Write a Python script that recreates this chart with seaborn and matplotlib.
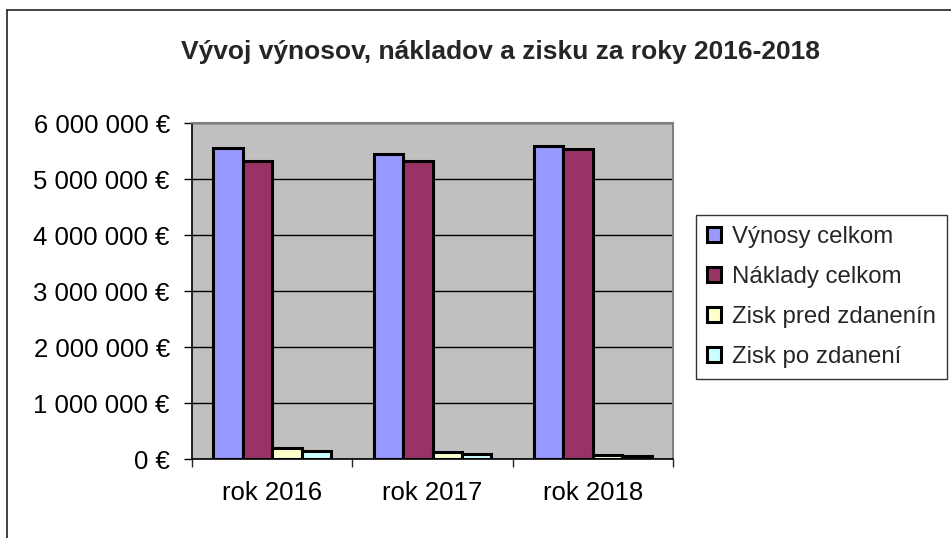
import pandas as pd
import matplotlib.pyplot as plt
import seaborn as sns
from matplotlib.lines import Line2D
from matplotlib.ticker import FuncFormatter, MultipleLocator

# data
roky = ["rok 2016", "rok 2017", "rok 2018"]
vynosy = [5560000, 5450000, 5590000]
naklady = [5330000, 5330000, 5530000]
zisk_pred = [200000, 120000, 77000]
zisk_po = [150000, 90000, 50000]

serie = ["Výnosy celkom", "Náklady celkom", "Zisk pred zdanenín", "Zisk po zdanení"]
farby = ["#9999FF", "#993366", "#FFFFCC", "#CCFFFF"]

df = pd.DataFrame({
    "rok": roky * 4,
    "seria": [s for s in serie for _ in roky],
    "hodnota": vynosy + naklady + zisk_pred + zisk_po,
})

sns.set_style("white")
plt.rcParams["font.family"] = ["Liberation Sans", "DejaVu Sans"]

fig = plt.figure(figsize=(9.51, 5.38), dpi=100)
ax = fig.add_axes([0.2019, 0.1468, 0.5058, 0.6245])

sns.barplot(data=df, x="rok", y="hodnota", hue="seria", hue_order=serie,
            palette=farby, width=0.735, gap=0, saturation=1,
            edgecolor="black", linewidth=2.2, ax=ax, zorder=3)

ax.set_facecolor("#C0C0C0")
ax.set_xlim(-0.5, 2.5)
ax.set_ylim(0, 6000000)
ax.yaxis.set_major_locator(MultipleLocator(1000000))
ax.yaxis.set_major_formatter(FuncFormatter(lambda v, p: f"{int(v):,} €".replace(",", " ")))
ax.grid(axis="y", color="black", linewidth=1, zorder=1)
ax.set_axisbelow(True)
ax.set_xlabel("")
ax.set_ylabel("")

for s in ["top", "right"]:
    ax.spines[s].set_color("#808080")
    ax.spines[s].set_linewidth(1.5)
for s in ["left", "bottom"]:
    ax.spines[s].set_color("black")
    ax.spines[s].set_linewidth(1.2)

ax.tick_params(axis="both", labelsize=18.5, colors="black", direction="out",
               length=6, width=1, left=True, bottom=False)
ax.tick_params(axis="y", pad=10)
ax.tick_params(axis="x", pad=10)
# category separators on x axis
ax.set_xticks([-0.5, 0.5, 1.5, 2.5], minor=True)
ax.tick_params(axis="x", which="minor", bottom=True, length=6, width=1)

ax.legend(loc="upper left", bbox_to_anchor=(0.732, 1 - 215 / 538), bbox_transform=fig.transFigure,
          fontsize=17.3, frameon=True, fancybox=False, edgecolor="black",
          handlelength=0.6, handleheight=0.6, handletextpad=0.45,
          labelspacing=0.75, borderpad=0.45, borderaxespad=0)
ax.get_legend().get_frame().set_linewidth(1)

fig.text(0.526, 1 - 52 / 538, "Vývoj výnosov, nákladov a zisku za roky 2016-2018",
         ha="center", va="center", fontsize=19, fontweight="bold")

# outer chart border
fig.add_artist(Line2D([7 / 951, 7 / 951], [0, 1 - 10 / 538], transform=fig.transFigure, color="#222222", linewidth=1.2))
fig.add_artist(Line2D([7 / 951, 1], [1 - 10 / 538, 1 - 10 / 538], transform=fig.transFigure, color="#222222", linewidth=1.2))

fig.savefig("out.png", dpi=100)
